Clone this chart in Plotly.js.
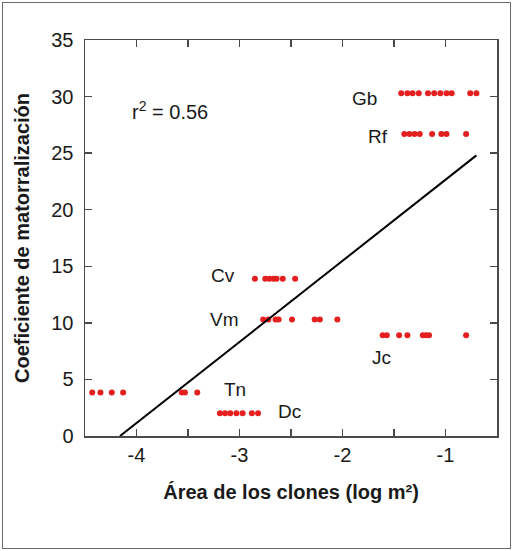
<!DOCTYPE html>
<html>
<head>
<meta charset="utf-8">
<script src="https://cdn.plot.ly/plotly-3.0.1.min.js"></script>
<style>
  html, body { margin: 0; padding: 0; background: #fff; }
  #wrap { position: relative; width: 513px; height: 551px; overflow: hidden; }
  #chart { position: absolute; left: 0; top: 0; width: 513px; height: 551px; }
  #frame { position: absolute; left: 2px; top: 2px; width: 507px; height: 545px; border: 1.5px solid #6a6a6a; pointer-events: none; }
</style>
</head>
<body>
<div id="wrap">
  <div id="chart"></div>
  <div id="frame"></div>
</div>
<script>
// Species groups (x = log clone area, y = shrub encroachment coefficient)
const gbX = [-1.43, -1.37, -1.32, -1.26, -1.17, -1.11, -1.05, -0.99, -0.94, -0.76, -0.70];
const gbY = 30.3;
const rfX = [-1.40, -1.35, -1.30, -1.25, -1.13, -1.04, -0.99, -0.80];
const rfY = 26.7;
const cvX = [-2.85, -2.75, -2.71, -2.67, -2.64, -2.58, -2.46];
const cvY = 13.9;
const vmX = [-2.77, -2.72, -2.65, -2.62, -2.49, -2.27, -2.22, -2.05];
const vmY = 10.3;
const jcX = [-1.61, -1.57, -1.45, -1.37, -1.22, -1.19, -1.16, -0.80];
const jcY = 8.9;
const tnX = [-4.43, -4.35, -4.24, -4.13, -3.56, -3.53, -3.41];
const tnY = 3.85;
const dcX = [-3.19, -3.14, -3.09, -3.03, -2.97, -2.88, -2.82];
const dcY = 2.0;

// Regression line end points
const fitX = [-4.16, -0.70];
const fitY = [0, 24.8];

// Labels
const labelText = ["Gb", "Rf", "Cv", "Vm", "Jc", "Tn", "Dc"];
const labelX = [-1.79, -1.66, -3.16, -3.15, -1.62, -3.04, -2.51];
const labelY = [29.8, 26.5, 14.2, 10.3, 6.9, 4.1, 2.2];
const r2Text = "r<sup>2</sup> = 0.56";
const r2X = -3.67, r2Y = 28.8;

const xTicks = [-4, -3, -2, -1];
const xMinor = [-4.5, -3.5, -2.5, -1.5, -0.5];
const yTicks = [0, 5, 10, 15, 20, 25, 30, 35];

const FONT = 'Liberation Sans, Arial, sans-serif';
const groups = [[gbX, gbY], [rfX, rfY], [cvX, cvY], [vmX, vmY], [jcX, jcY], [tnX, tnY], [dcX, dcY]];
const traces = groups.map(g => ({
  type: 'scatter', mode: 'markers',
  x: g[0], y: g[0].map(() => g[1]),
  marker: { color: '#e3201f', size: 6 },
  hoverinfo: 'skip', showlegend: false
}));
traces.push({
  type: 'scatter', mode: 'lines', x: fitX, y: fitY,
  line: { color: '#000', width: 2 }, hoverinfo: 'skip', showlegend: false
});

const annotations = labelText.map((t, i) => ({
  x: labelX[i], y: labelY[i], xref: 'x', yref: 'y', text: t, showarrow: false,
  font: { family: FONT, size: 19, color: '#1a1a1a' }
}));
annotations.push({
  x: r2X, y: r2Y, xref: 'x', yref: 'y', text: r2Text, showarrow: false,
  font: { family: FONT, size: 20, color: '#1a1a1a' }
});

const axisCommon = {
  showgrid: false, zeroline: false, showline: true, linecolor: '#4a4a4a', linewidth: 1.5,
  mirror: 'ticks', ticks: 'inside', ticklen: 7, tickwidth: 1.5, tickcolor: '#4a4a4a',
  tickfont: { family: FONT, size: 20, color: '#1a1a1a' },
  automargin: true
};

const layout = {
  width: 513, height: 551,
  margin: { l: 85, r: 16, t: 40, b: 115 },
  paper_bgcolor: '#fff', plot_bgcolor: '#fff',
  font: { family: FONT },
  xaxis: Object.assign({}, axisCommon, {
    range: [-4.5, -0.5], tickvals: xTicks, ticktext: xTicks.map(String),
    minor: { tickvals: xMinor, ticks: 'inside', ticklen: 7, tickwidth: 1.5, tickcolor: '#4a4a4a' },
    title: { text: '<b>Área de los clones (log m²)</b>', font: { family: FONT, size: 20, color: '#1a1a1a' }, standoff: 20 }
  }),
  yaxis: Object.assign({}, axisCommon, {
    range: [0, 35], tickvals: yTicks, ticktext: yTicks.map(String),
    ticklabelstandoff: 6,
    title: { text: '<b>Coeficiente de matorralización</b>', font: { family: FONT, size: 20, color: '#1a1a1a' }, standoff: 16 }
  }),
  annotations: annotations
};

Plotly.newPlot('chart', traces, layout, { staticPlot: true, displayModeBar: false });
</script>
</body>
</html>
